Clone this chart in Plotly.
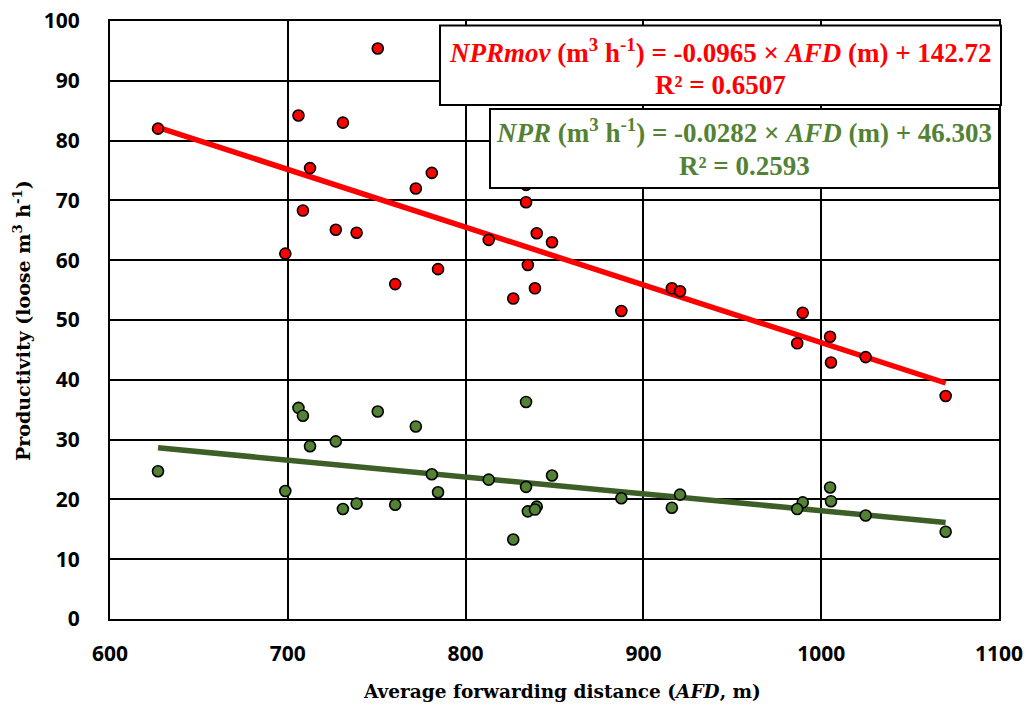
import plotly.graph_objects as go

# Average forwarding distance (m)
afd = [627, 706, 731, 750.6, 712.5, 781, 772, 708.5, 727, 738.7, 698.6, 784.5, 760.4,
       834, 834, 813, 840, 848.6, 835, 839, 826.8, 887.6, 916, 920.6,
       989.6, 986.5, 1005, 1005.5, 1025, 1070]
# Productivity NPRmov (loose m3 h-1)
npr_mov = [82.0, 84.2, 83.0, 95.4, 75.4, 74.6, 72.0, 68.3, 65.1, 64.6, 61.1, 58.5, 56.0,
           72.6, 69.7, 63.4, 64.5, 63.0, 59.2, 55.3, 53.6, 51.5, 55.3, 54.8,
           51.2, 46.1, 47.2, 42.9, 43.8, 37.3]
# Productivity NPR (loose m3 h-1)
npr = [24.7, 35.3, 18.4, 34.7, 28.9, 24.2, 32.2, 34.0, 29.7, 19.3, 21.4, 21.2, 19.1,
       36.3, 22.1, 23.3, 18.8, 24.0, 18.0, 18.3, 13.3, 20.2, 18.6, 20.8,
       19.5, 18.4, 22.0, 19.7, 17.3, 14.6]

# Published regression coefficients
mov_slope, mov_intercept, mov_r2 = -0.0965, 142.72, 0.6507
npr_slope, npr_intercept, npr_r2 = -0.0282, 46.303, 0.2593

x_tick_vals = [600, 700, 800, 900, 1000, 1100]
y_tick_vals = [0, 10, 20, 30, 40, 50, 60, 70, 80, 90, 100]

RED = "#FF0000"
GREEN_M = "#548235"
GREEN_L = "#3D5F27"

x_line = [min(afd), max(afd)]
fig = go.Figure()
fig.add_trace(go.Scatter(x=x_line, y=[mov_slope * v + mov_intercept for v in x_line],
                         mode="lines", line=dict(color=RED, width=5.5), showlegend=False))
fig.add_trace(go.Scatter(x=x_line, y=[npr_slope * v + npr_intercept for v in x_line],
                         mode="lines", line=dict(color=GREEN_L, width=5.5), showlegend=False))
fig.add_trace(go.Scatter(x=afd, y=npr_mov, mode="markers",
                         marker=dict(color=RED, size=11, line=dict(color="black", width=1.6)),
                         showlegend=False))
fig.add_trace(go.Scatter(x=afd, y=npr, mode="markers",
                         marker=dict(color=GREEN_M, size=11, line=dict(color="black", width=1.6)),
                         showlegend=False))

L, R, T, B = 110, 999, 21, 619
W, H = R - L, B - T
def px(xp):
    return (xp - L) / W
def py(yp):
    return (B - yp) / H

# Equation boxes
fig.add_shape(type="rect", xref="paper", yref="paper", x0=px(440), x1=px(1001), y0=py(105), y1=py(25.5),
              line=dict(color="black", width=2), fillcolor="white", layer="above")
fig.add_shape(type="rect", xref="paper", yref="paper", x0=px(490), x1=px(999), y0=py(188), y1=py(109),
              line=dict(color="black", width=2), fillcolor="white", layer="above")

eq_font = "Liberation Serif, Times New Roman, serif"
ax_font = "DejaVu Serif, serif"
eq_size = 27
ann = []
ann.append(dict(x=px(720), y=py(51), text=f"<i>NPRmov</i> (m<sup>3</sup> h<sup>-1</sup>) = {mov_slope} × <i>AFD</i> (m) + {mov_intercept}",
                font=dict(family=eq_font, size=eq_size, color=RED, weight="bold")))
ann.append(dict(x=px(720), y=py(85), text=f"R² = {mov_r2}",
                font=dict(family=eq_font, size=eq_size, color=RED, weight="bold")))
ann.append(dict(x=px(744), y=py(131), text=f"<i>NPR</i> (m<sup>3</sup> h<sup>-1</sup>) = {npr_slope} × <i>AFD</i> (m) + {npr_intercept}",
                font=dict(family=eq_font, size=eq_size, color=GREEN_M, weight="bold")))
ann.append(dict(x=px(744), y=py(166), text=f"R² = {npr_r2}",
                font=dict(family=eq_font, size=eq_size, color=GREEN_M, weight="bold")))
ann.append(dict(x=px(562), y=py(691), text="Average forwarding distance (<i>AFD</i>, m)",
                font=dict(family=ax_font, size=18.5, color="black", weight="bold")))
ann.append(dict(x=px(22), y=py(321), text="Productivity (loose m<sup>3</sup> h<sup>-1</sup>)", textangle=-90,
                font=dict(family=ax_font, size=19, color="black", weight="bold")))
for a in ann:
    a.update(xref="paper", yref="paper", showarrow=False, xanchor="center", yanchor="middle")
fig.update_layout(annotations=ann)

tickfont = dict(family="Open Sans, sans-serif", size=21, color="black", weight="bold")
fig.update_xaxes(range=[600, 1100], tickvals=x_tick_vals, showgrid=True, gridcolor="black", gridwidth=2,
                 showline=True, linecolor="black", linewidth=2, mirror=True, zeroline=False,
                 tickfont=tickfont, ticks="", ticklabelstandoff=15, automargin=False)
fig.update_yaxes(range=[0, 100], tickvals=y_tick_vals, showgrid=True, gridcolor="black", gridwidth=2,
                 showline=True, linecolor="black", linewidth=2, mirror=True, zeroline=False,
                 tickfont=tickfont, ticks="", ticklabelstandoff=24, automargin=False)
fig.update_layout(width=1033, height=708, margin=dict(l=L, r=1033 - R, t=T, b=708 - B),
                  plot_bgcolor="white", paper_bgcolor="white")
fig.write_html("out.html")
